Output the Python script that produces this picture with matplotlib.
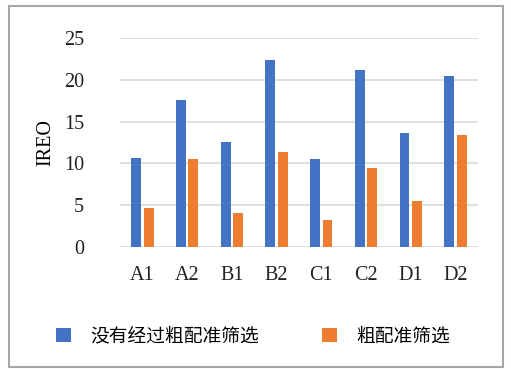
import numpy as np
import matplotlib.pyplot as plt
from matplotlib.patches import Rectangle

plt.rcParams['font.family'] = ['Liberation Serif', 'Noto Sans CJK SC']

categories = ['A1', 'A2', 'B1', 'B2', 'C1', 'C2', 'D1', 'D2']
no_coarse = [10.6, 17.6, 12.5, 22.4, 10.5, 21.2, 13.6, 20.4]
coarse = [4.6, 10.5, 4.1, 11.3, 3.2, 9.4, 5.5, 13.4]
series_names = ['没有经过粗配准筛选', '粗配准筛选']

blue = '#4472C4'
orange = '#ED7D31'

fig = plt.figure(figsize=(5.11, 3.69), dpi=100)
ax = fig.add_axes([0.235, 0.331, 0.7, 0.566])

x = np.arange(len(categories))
w = 0.22
b1 = ax.bar(x - 0.14, no_coarse, w, color=blue, zorder=3)
b2 = ax.bar(x + 0.14, coarse, w, color=orange, zorder=3)

ax.set_xlim(-0.5, len(categories) - 0.5)
ax.set_ylim(0, 25)
ax.set_yticks([0, 5, 10, 15, 20, 25])
ax.set_xticks(x)
ax.set_xticklabels(categories)
ax.grid(axis='y', color='#d9d9d9', linewidth=1.2, zorder=0)
for s in ax.spines.values():
    s.set_visible(False)
ax.tick_params(length=0, labelsize=14.5, colors='#222222')
ax.tick_params(axis='x', pad=14)
ax.tick_params(axis='y', pad=26)
ax.set_ylabel('IREO', fontsize=14.5, labelpad=6)

fig.legend([b1, b2], series_names, loc='center', bbox_to_anchor=(0.495, 0.09),
           ncol=2, frameon=False, handlelength=0.8, handleheight=0.8,
           handletextpad=1.0, columnspacing=3.4,
           prop={'family': ['Noto Sans CJK SC'], 'size': 13.5})

fig.patches.append(Rectangle((9 / 511, 2 / 369), 494 / 511, 361 / 369,
                             transform=fig.transFigure, fill=False,
                             edgecolor='#a6a6a6', linewidth=1.5))

fig.savefig('out.png', dpi=100, facecolor='white')
